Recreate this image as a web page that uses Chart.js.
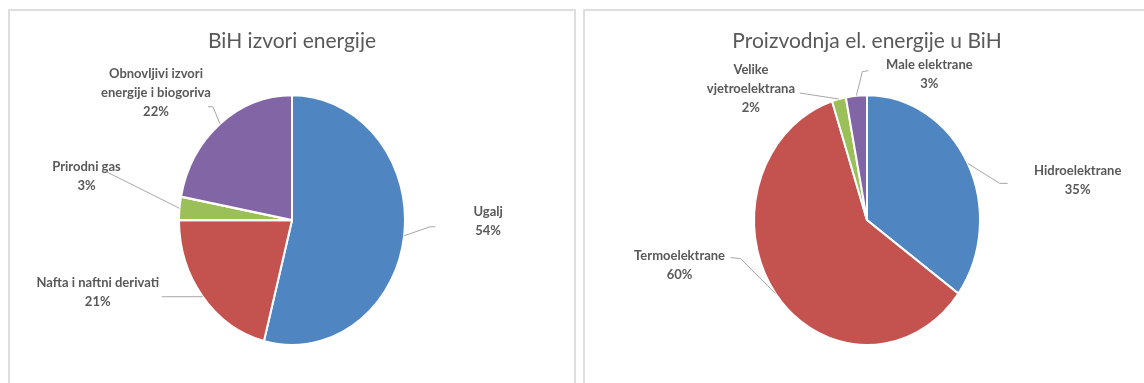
<!DOCTYPE html>
<html>
<head>
<meta charset="utf-8">
<script src="https://cdn.jsdelivr.net/npm/chart.js@4"></script>
<style>
  html, body { margin: 0; padding: 0; background: #ffffff; overflow: hidden; }
  .box { position: absolute; top: 9px; width: 564px; height: 380px; border: 2px solid #dedede; background: #fff; }
  #box1 { left: 8px; }
  #box2 { left: 583px; }
  canvas { display: block; }
</style>
</head>
<body>
<div class="box" id="box1"><canvas id="c1" width="564" height="372"></canvas></div>
<div class="box" id="box2"><canvas id="c2" width="564" height="372"></canvas></div>
<script>
// ---- data ----
const leftTitle = 'BiH izvori energije';
const leftCategories = ['Ugalj', 'Nafta i naftni derivati', 'Prirodni gas', ['Obnovljivi izvori', 'energije i biogoriva']];
const leftValues = [54, 21, 3, 22];

const rightTitle = 'Proizvodnja el. energije u BiH';
const rightCategories = ['Hidroelektrane', 'Termoelektrane', ['Velike', 'vjetroelektrana'], 'Male elektrane'];
const rightValues = [35, 60, 2, 3];

const sliceColors = ['#4F86C2', '#C4524F', '#9BBF59', '#8265A4'];

// ---- style: label placement relative to slice edge midpoint ----
const leftLabelStyle = [
  { dx: 84,  dy: -14, path: [[26, -9], [31, -9]] },
  { dx: -105, dy: -4, path: [[-41, 0]] },
  { dx: -93, dy: -32, path: [[-72, -36]] },
  { dx: -64, dy: -31, path: [[-7, -17], [-12, -17]] }
];
const rightLabelStyle = [
  { dx: 110, dy: 17, path: [[32, 20], [40, 20]] },
  { dx: -96, dy: -28, path: [[-35, -35], [-45, -36]] },
  { dx: -88, dy: -10, path: [[-39, -6]] },
  { dx: 73, dy: -21, path: [[6, -24], [12, -25]] }
];

const Y_STRETCH = 125 / 113;

const ellipsePlugin = {
  id: 'ellipse',
  beforeDatasetsDraw(chart) {
    const el = chart.getDatasetMeta(0).data[0];
    const ctx = chart.ctx;
    ctx.save();
    ctx.translate(el.x, el.y);
    ctx.scale(1, Y_STRETCH);
    ctx.translate(-el.x, -el.y);
  },
  afterDatasetsDraw(chart) {
    chart.ctx.restore();
  }
};

const labelPlugin = {
  id: 'sliceLabels',
  afterDraw(chart, args, opts) {
    const ctx = chart.ctx;
    const meta = chart.getDatasetMeta(0);
    const values = chart.data.datasets[0].data;
    const total = values.reduce((a, b) => a + b, 0);
    const styles = opts.styles;
    ctx.save();
    meta.data.forEach((arc, i) => {
      const mid = (arc.startAngle + arc.endAngle) / 2;
      const R = arc.outerRadius;
      const ex = arc.x + R * Math.cos(mid);
      const ey = arc.y + R * Y_STRETCH * Math.sin(mid);
      const st = styles[i];
      // leader line
      ctx.strokeStyle = '#a6a6a6';
      ctx.lineWidth = 1;
      ctx.beginPath();
      ctx.moveTo(ex, ey);
      st.path.forEach(p => ctx.lineTo(ex + p[0], ey + p[1]));
      ctx.stroke();
      // text
      const lab = chart.data.labels[i];
      const lines = (Array.isArray(lab) ? lab.slice() : [lab]);
      lines.push(Math.round(values[i] / total * 100) + '%');
      const lh = 19;
      const cx = ex + st.dx, cy = ey + st.dy;
      ctx.fillStyle = '#595959';
      ctx.font = 'bold 13px Lato, "Open Sans", sans-serif';
      ctx.textAlign = 'center';
      ctx.textBaseline = 'middle';
      lines.forEach((t, k) => {
        ctx.fillText(t, cx, cy + (k - (lines.length - 1) / 2) * lh);
      });
    });
    ctx.restore();
  }
};

function makePie(id, title, cats, vals, styles) {
  return new Chart(document.getElementById(id), {
    type: 'pie',
    data: {
      labels: cats,
      datasets: [{
        data: vals,
        backgroundColor: sliceColors,
        borderColor: '#ffffff',
        borderWidth: 2
      }]
    },
    options: {
      responsive: false,
      animation: false,
      devicePixelRatio: 1,
      radius: 113,
      layout: { padding: { top: 0, bottom: 17, left: 0, right: 0 } },
      plugins: {
        legend: { display: false },
        tooltip: { enabled: false },
        title: {
          display: true,
          text: title,
          color: '#595959',
          font: { family: 'Lato, "Open Sans", sans-serif', size: 21, weight: 'normal', lineHeight: 1.2 },
          padding: { top: 18, bottom: 20 }
        },
        sliceLabels: { styles: styles }
      }
    },
    plugins: [ellipsePlugin, labelPlugin]
  });
}

makePie('c1', leftTitle, leftCategories, leftValues, leftLabelStyle);
makePie('c2', rightTitle, rightCategories, rightValues, rightLabelStyle);
</script>
</body>
</html>
